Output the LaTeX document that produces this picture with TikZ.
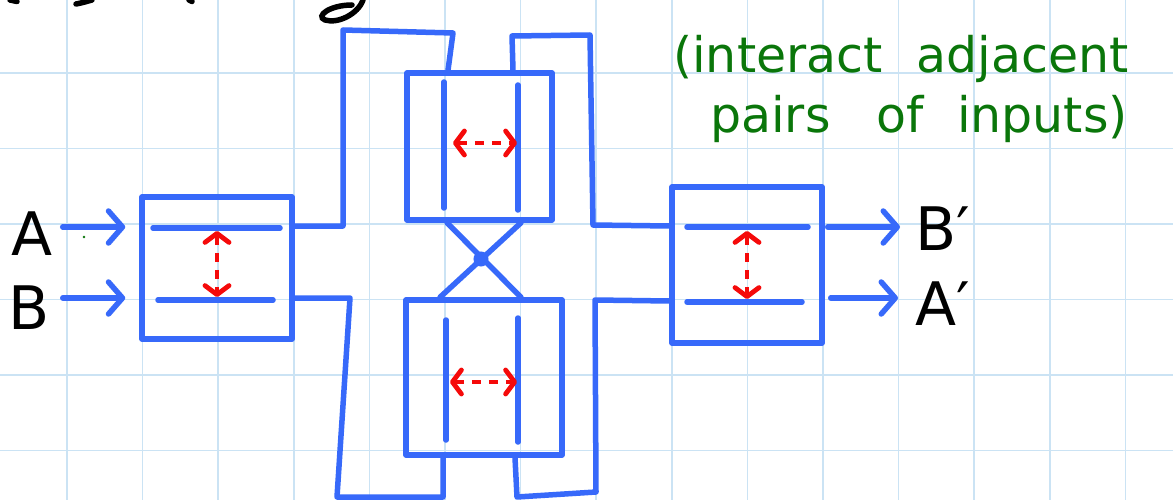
\documentclass[tikz,border=0pt]{standalone}
\usepackage{fontspec}
\newfontfamily\hand{DejaVu Sans}
\usetikzlibrary{arrows.meta}
\definecolor{pen}{RGB}{55,105,250}
\definecolor{redpen}{RGB}{245,10,10}
\definecolor{greenpen}{RGB}{10,118,10}
\definecolor{gridc}{RGB}{203,227,244}
\tikzset{
 wire/.style={draw=pen, line width=5.5pt, line cap=round, line join=round},
 boxn/.style={draw=pen, line width=5.5pt, rectangle, inner sep=0pt, line join=round},
 inarrow/.style={-{Straight Barb[length=14pt,width=32pt,round]}},
 swaparrow/.style={draw=redpen, line width=4.8pt, dash pattern=on 9pt off 8pt,
   {Straight Barb[length=9pt,width=24pt,round]}-{Straight Barb[length=9pt,width=24pt,round]}},
 letter/.style={font=\hand\fontsize{60}{60}\selectfont, inner sep=0pt},
 greennote/.style={font=\hand\fontsize{49}{56}\selectfont, text=greenpen, inner sep=0pt, anchor=base west},
 gridline/.style={draw=gridc, line width=1.6pt},
 ink/.style={draw=black, line width=5.5pt, line cap=round}
}
\begin{document}
\begin{tikzpicture}[x=1pt,y=-1pt]
\useasboundingbox (0,0) rectangle (1173,500);
\fill[white] (0,0) rectangle (1173,500);
\foreach \i in {0,...,14} \draw[gridline] ({67+75.6*\i},0) -- ({67+75.6*\i},500);
\foreach \j in {0,...,5} \draw[gridline] (0,{73+75.5*\j}) -- (1173,{73+75.5*\j});

% cut-off title strokes
\draw[ink] (363,0) .. controls (358,14) and (338,24) .. (325,20) .. controls (315,16) and (330,5) .. (352,5);
\draw[ink] (10,0) -- (17,1.5);
\draw[ink] (76,4) .. controls (82,3) and (88,1) .. (92,0);
\draw[ink] (189,0) -- (192,1.5);
\fill[greenpen] (84,237) circle (1.3);

% boxes
\node[boxn, minimum width=150pt, minimum height=142pt] (lbox) at (217,268) {};
\node[boxn, minimum width=145pt, minimum height=147pt] (tbox) at (479.5,146.5) {};
\node[boxn, minimum width=156pt, minimum height=155pt] (bbox) at (484,377.5) {};
\node[boxn, minimum width=150pt, minimum height=156pt] (rbox) at (747,265) {};

% labels
\node[letter] (A) at (32,233.5) {A};
\node[letter] (B) at (29,307.5) {B};
\node[letter, anchor=west] (Bp) at (915,228.5) {B′};
\node[letter, anchor=west] (Ap) at (915,304) {A′};

\coordinate (yU) at (0,226);
\coordinate (yA) at (0,227);
\coordinate (yL) at (0,298);
\coordinate (yL2) at (0,301);
\coordinate (xTL) at (448,0);
\coordinate (xTR) at (513,0);
\coordinate (xBL) at (443,0);
\coordinate (xBR) at (515,0);
\coordinate (xX1) at (447,0);
\coordinate (xX2) at (521,0);
\coordinate (xX3) at (440,0);

% inputs
\draw[wire, inarrow, shorten <=10pt, shorten >=14pt] (A.east |- yA) -- (lbox.west |- yA);
\draw[wire, inarrow, shorten <=13pt, shorten >=14pt] (B.east |- yL) -- (lbox.west |- yL);

% frames
\draw[wire] (lbox.east |- yU) -- (343,226) -- (343,30) -- (453,33) -- (tbox.north -| xTL);
\draw[wire] (tbox.north -| xTR) -- (512,36) -- (590,35) -- (593,225) -- (rbox.west |- yU);
\draw[wire] (lbox.east |- yL) -- (350,298) -- (337,497) -- (443,497) -- (bbox.south -| xBL);
\draw[wire] (bbox.south -| xBR) -- (517,497) -- (596,492) -- (595,300) -- (rbox.west |- yL2);

% crossing
\draw[wire] (tbox.south -| xX1) -- (bbox.north -| xX2);
\draw[wire] (tbox.south -| xX2) -- (bbox.north -| xX3);
\node[circle, fill=pen, draw=pen, line width=2pt, inner sep=0pt, minimum size=13pt] (cross) at (481,259) {};

% inner lines
\draw[wire] (153,228) -- (280,228);
\draw[wire] (158,300) -- (273,300);
\draw[wire] (687,227) -- (808,227);
\draw[wire] (687,302) -- (802,302);
\draw[wire] (444,82) -- (444,208);
\draw[wire] (518,85) -- (518,210);
\draw[wire] (446,320) -- (446,440);
\draw[wire] (518,318) -- (518,442);

% swaps
\draw[swaparrow] (217,231) -- (217,297);
\draw[swaparrow] (747,231) -- (747,299);
\draw[swaparrow] (453,143) -- (517,143);
\draw[swaparrow] (450,382) -- (517,382);

% outputs
\draw[wire, inarrow, shorten <=3pt, shorten >=15pt] (rbox.east |- yA) -- (Bp.west |- yA);
\draw[wire, inarrow, shorten <=6pt, shorten >=17pt] (rbox.east |- yL) -- (Ap.west |- yL);

% note
\node[greennote] (n1) at (673,73) {(interact \hspace{18pt}adjacent};
\node[greennote] (n2) at (710,133) {pairs \hspace{30pt}of \hspace{18pt}inputs)};
\end{tikzpicture}
\end{document}
